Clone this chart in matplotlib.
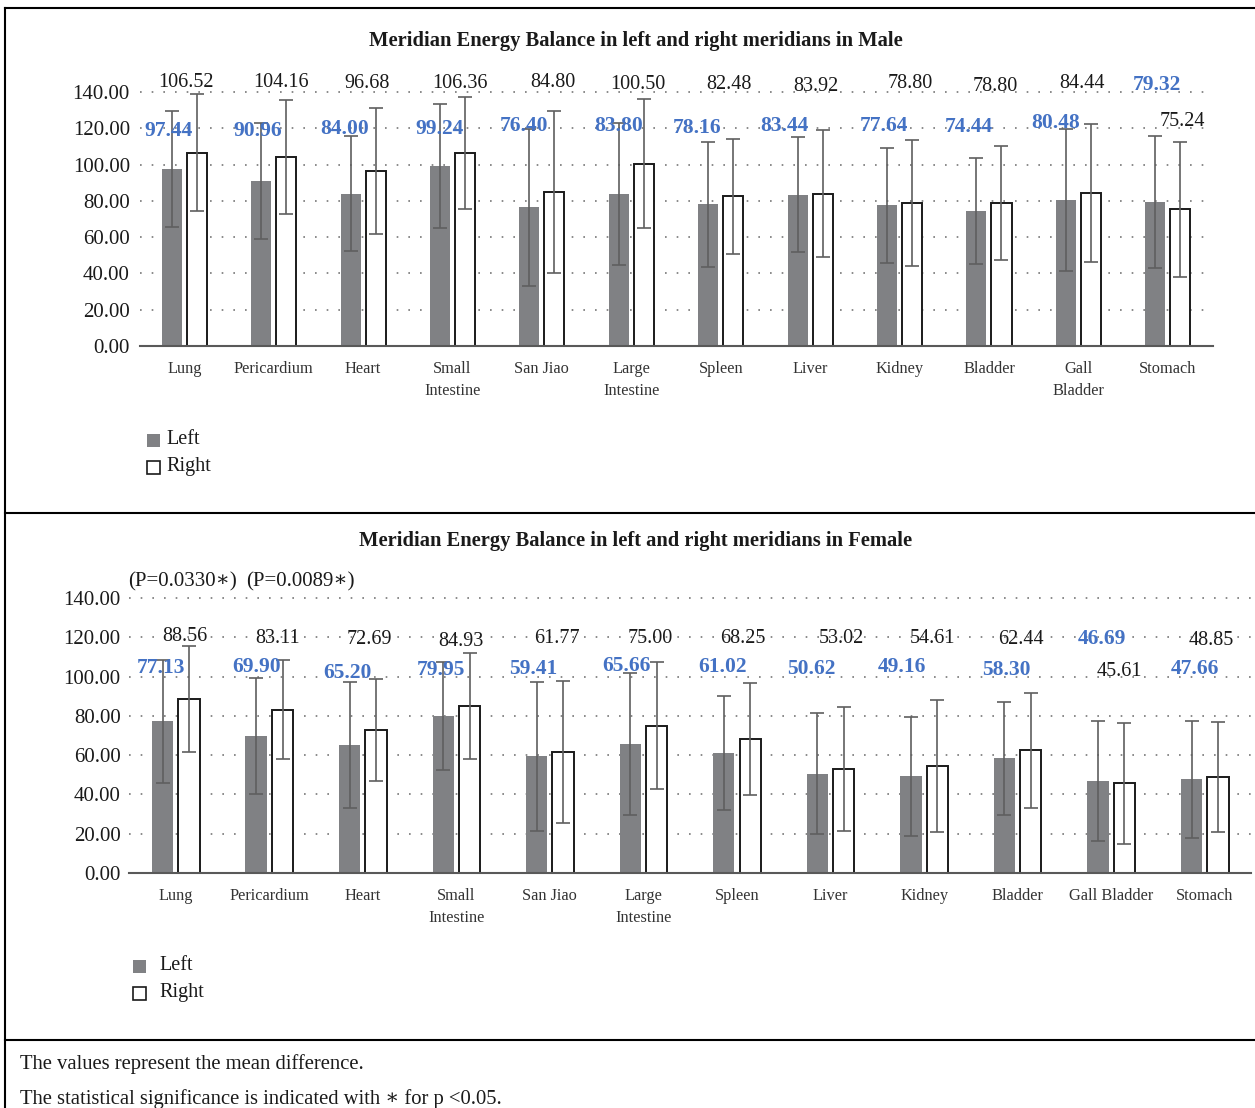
import matplotlib
matplotlib.use('Agg')
import matplotlib.pyplot as plt
from matplotlib.patches import Rectangle
from matplotlib.lines import Line2D
import numpy as np

plt.rcParams['font.family'] = ['Liberation Serif', 'DejaVu Serif']

# ---------------- data ----------------
male_categories = ['Lung', 'Pericardium', 'Heart', 'Small\nIntestine', 'San Jiao', 'Large\nIntestine',
                   'Spleen', 'Liver', 'Kidney', 'Bladder', 'Gall\nBladder', 'Stomach']
female_categories = ['Lung', 'Pericardium', 'Heart', 'Small\nIntestine', 'San Jiao', 'Large\nIntestine',
                     'Spleen', 'Liver', 'Kidney', 'Bladder', 'Gall Bladder', 'Stomach']

male_left = [97.44, 90.96, 84.00, 99.24, 76.40, 83.80, 78.16, 83.44, 77.64, 74.44, 80.48, 79.32]
male_right = [106.52, 104.16, 96.68, 106.36, 84.80, 100.50, 82.48, 83.92, 78.80, 78.80, 84.44, 75.24]
male_left_sd = [32.0, 32.0, 31.5, 34.2, 43.2, 38.9, 34.4, 31.6, 31.7, 29.0, 39.4, 36.2]
male_right_sd = [32.3, 31.5, 34.7, 30.8, 44.6, 35.6, 31.7, 35.1, 34.9, 31.3, 38.1, 37.1]

female_left = [77.13, 69.90, 65.20, 79.95, 59.41, 65.66, 61.02, 50.62, 49.16, 58.30, 46.69, 47.66]
female_right = [88.56, 83.11, 72.69, 84.93, 61.77, 75.00, 68.25, 53.02, 54.61, 62.44, 45.61, 48.85]
female_left_sd = [31.1, 29.5, 32.0, 27.6, 37.9, 36.3, 29.0, 31.0, 30.5, 29.0, 30.6, 29.6]
female_right_sd = [27.0, 25.3, 25.9, 27.1, 36.1, 32.3, 28.7, 31.7, 33.5, 29.4, 30.6, 28.2]

p_labels = ['(P=0.0330\u2217)', '(P=0.0089\u2217)']

# ---------------- label placement (layout, not data) ----------------
male_left_lab_y = [118.5, 118.5, 119.6, 119.6, 121.3, 121.3, 120.2, 121.3, 121.3, 120.7, 122.9, 143.9]
male_right_lab_y = [145.5, 145.5, 144.9, 144.9, 145.5, 144.4, 143.9, 143.3, 144.9, 143.3, 144.9, 123.5]
male_left_lab_dx = [-0.18, -0.18, -0.21, -0.15, -0.20, -0.14, -0.26, -0.29, -0.18, -0.23, -0.26, -0.12]
male_right_lab_dx = [0.02, 0.08, 0.04, 0.08, 0.12, 0.07, 0.09, 0.06, 0.12, 0.07, 0.04, 0.16]

female_left_lab_y = [104.6, 105.1, 101.6, 103.1, 103.6, 105.6, 105.1, 104.1, 105.1, 103.1, 118.9, 103.6]
female_right_lab_y = [120.4, 119.4, 118.9, 117.9, 119.4, 119.4, 119.4, 119.4, 119.4, 118.9, 102.6, 118.4]
female_left_lab_dx = [-0.16, -0.14, -0.16, -0.16, -0.18, -0.18, -0.15, -0.21, -0.24, -0.12, -0.10, -0.11]
female_right_lab_dx = [0.10, 0.09, 0.07, 0.05, 0.07, 0.07, 0.06, 0.12, 0.09, 0.04, 0.09, 0.07]
p_lab_x = [0.077, 1.328]
p_lab_y = 148.3

W, H = 1255, 1108
fig = plt.figure(figsize=(W / 100, H / 100), dpi=100)

BLUE = '#4472C4'
GRAY = '#808184'
ERR = '#5f5f5f'
TXT = '#1a1a1a'


def fx(px):
    return px / W


def fy(py):
    return 1 - py / H


def draw_panel(rect, cats, left, right, lsd, rsd, lly, rly, ldx, rdx, bw, off, tickpad):
    ax = fig.add_axes(rect)
    x = np.arange(len(cats))
    ax.bar(x - off, left, bw, color=GRAY, edgecolor='none', zorder=2)
    ax.bar(x + off, right, bw, color='white', edgecolor=TXT, linewidth=1.4, zorder=2)
    ax.errorbar(x - off, left, yerr=lsd, fmt='none', ecolor=ERR, elinewidth=1.2,
                capsize=5, capthick=1.2, zorder=3)
    ax.errorbar(x + off, right, yerr=rsd, fmt='none', ecolor=ERR, elinewidth=1.2,
                capsize=5, capthick=1.2, zorder=3)
    for i in range(len(cats)):
        ax.text(i + ldx[i], lly[i], f'{left[i]:.2f}', ha='center', va='center',
                color=BLUE, fontweight='bold', fontsize=15.5, clip_on=False, zorder=4)
        ax.text(i + rdx[i], rly[i], f'{right[i]:.2f}', ha='center', va='center',
                color=TXT, fontsize=14.5, clip_on=False, zorder=4)
    ax.set_xlim(-0.5, len(cats) - 0.5)
    ax.set_ylim(0, 140)
    ax.set_yticks(np.arange(0, 141, 20))
    ax.set_yticklabels([f'{v:.2f}' for v in np.arange(0, 141, 20)], fontsize=15, color=TXT)
    ax.set_xticks(x)
    ax.set_xticklabels(cats, fontsize=11.8, color='#333333', linespacing=1.5)
    ax.tick_params(axis='both', length=0)
    ax.tick_params(axis='y', pad=tickpad)
    ax.tick_params(axis='x', pad=11)
    for s in ['top', 'right', 'left']:
        ax.spines[s].set_visible(False)
    ax.spines['bottom'].set_color('#595959')
    ax.spines['bottom'].set_linewidth(1.5)
    ax.spines['bottom'].set_zorder(5)
    for v in range(20, 141, 20):
        ax.axhline(v, color='#777777', linestyle=(0, (1, 6)), linewidth=1.2, zorder=1, clip_on=False)
    return ax


# male panel
axm = draw_panel([fx(139.6), fy(346), fx(1212.5 - 139.6), (346 - 92) / H],
                 male_categories, male_left, male_right, male_left_sd, male_right_sd,
                 male_left_lab_y, male_right_lab_y, male_left_lab_dx, male_right_lab_dx,
                 0.224, 0.14, 7)

# female panel
axf = draw_panel([fx(129), fy(873), fx(1251.5 - 129), (873 - 598) / H],
                 female_categories, female_left, female_right, female_left_sd, female_right_sd,
                 female_left_lab_y, female_right_lab_y, female_left_lab_dx, female_right_lab_dx,
                 0.228, 0.141, 6)
for i, t in enumerate(p_labels):
    axf.text(p_lab_x[i], p_lab_y, t, ha='center', va='center', fontsize=15,
             color=TXT, clip_on=False)

# titles
fig.text(fx(636), fy(41), 'Meridian Energy Balance in left and right meridians in Male',
         ha='center', va='center', fontsize=14.8, fontweight='bold', color=TXT)
fig.text(fx(636), fy(541), 'Meridian Energy Balance in left and right meridians in Female',
         ha='center', va='center', fontsize=14.8, fontweight='bold', color=TXT)


# legends
def legend(px, py_left, py_right, tx):
    s = 13
    fig.add_artist(Rectangle((fx(px), fy(py_left + s / 2)), s / W, s / H, transform=fig.transFigure,
                             facecolor=GRAY, edgecolor='none'))
    fig.add_artist(Rectangle((fx(px), fy(py_right + s / 2)), s / W, s / H, transform=fig.transFigure,
                             facecolor='white', edgecolor=TXT, linewidth=1.2))
    fig.text(fx(tx), fy(py_left), 'Left', ha='left', va='center', fontsize=14.5, color=TXT)
    fig.text(fx(tx), fy(py_right), 'Right', ha='left', va='center', fontsize=14.5, color=TXT)


legend(147, 440, 467, 166)
legend(133, 966, 993, 159)

# frame lines
lw = 1.5
fig.add_artist(Line2D([fx(5), fx(W)], [fy(8), fy(8)], transform=fig.transFigure, color='black', lw=lw))
fig.add_artist(Line2D([fx(5), fx(5)], [fy(8), fy(H)], transform=fig.transFigure, color='black', lw=lw))
fig.add_artist(Line2D([fx(5), fx(W)], [fy(513), fy(513)], transform=fig.transFigure, color='black', lw=lw))
fig.add_artist(Line2D([fx(5), fx(W)], [fy(1040), fy(1040)], transform=fig.transFigure, color='black', lw=lw))

# footnotes
fig.text(fx(20), fy(1064), 'The values represent the mean difference.', ha='left', va='center',
         fontsize=14.9, color=TXT)
fig.text(fx(20), fy(1099), 'The statistical significance is indicated with \u2217 for p <0.05.',
         ha='left', va='center', fontsize=14.9, color=TXT)

fig.savefig('out.png', dpi=100)
